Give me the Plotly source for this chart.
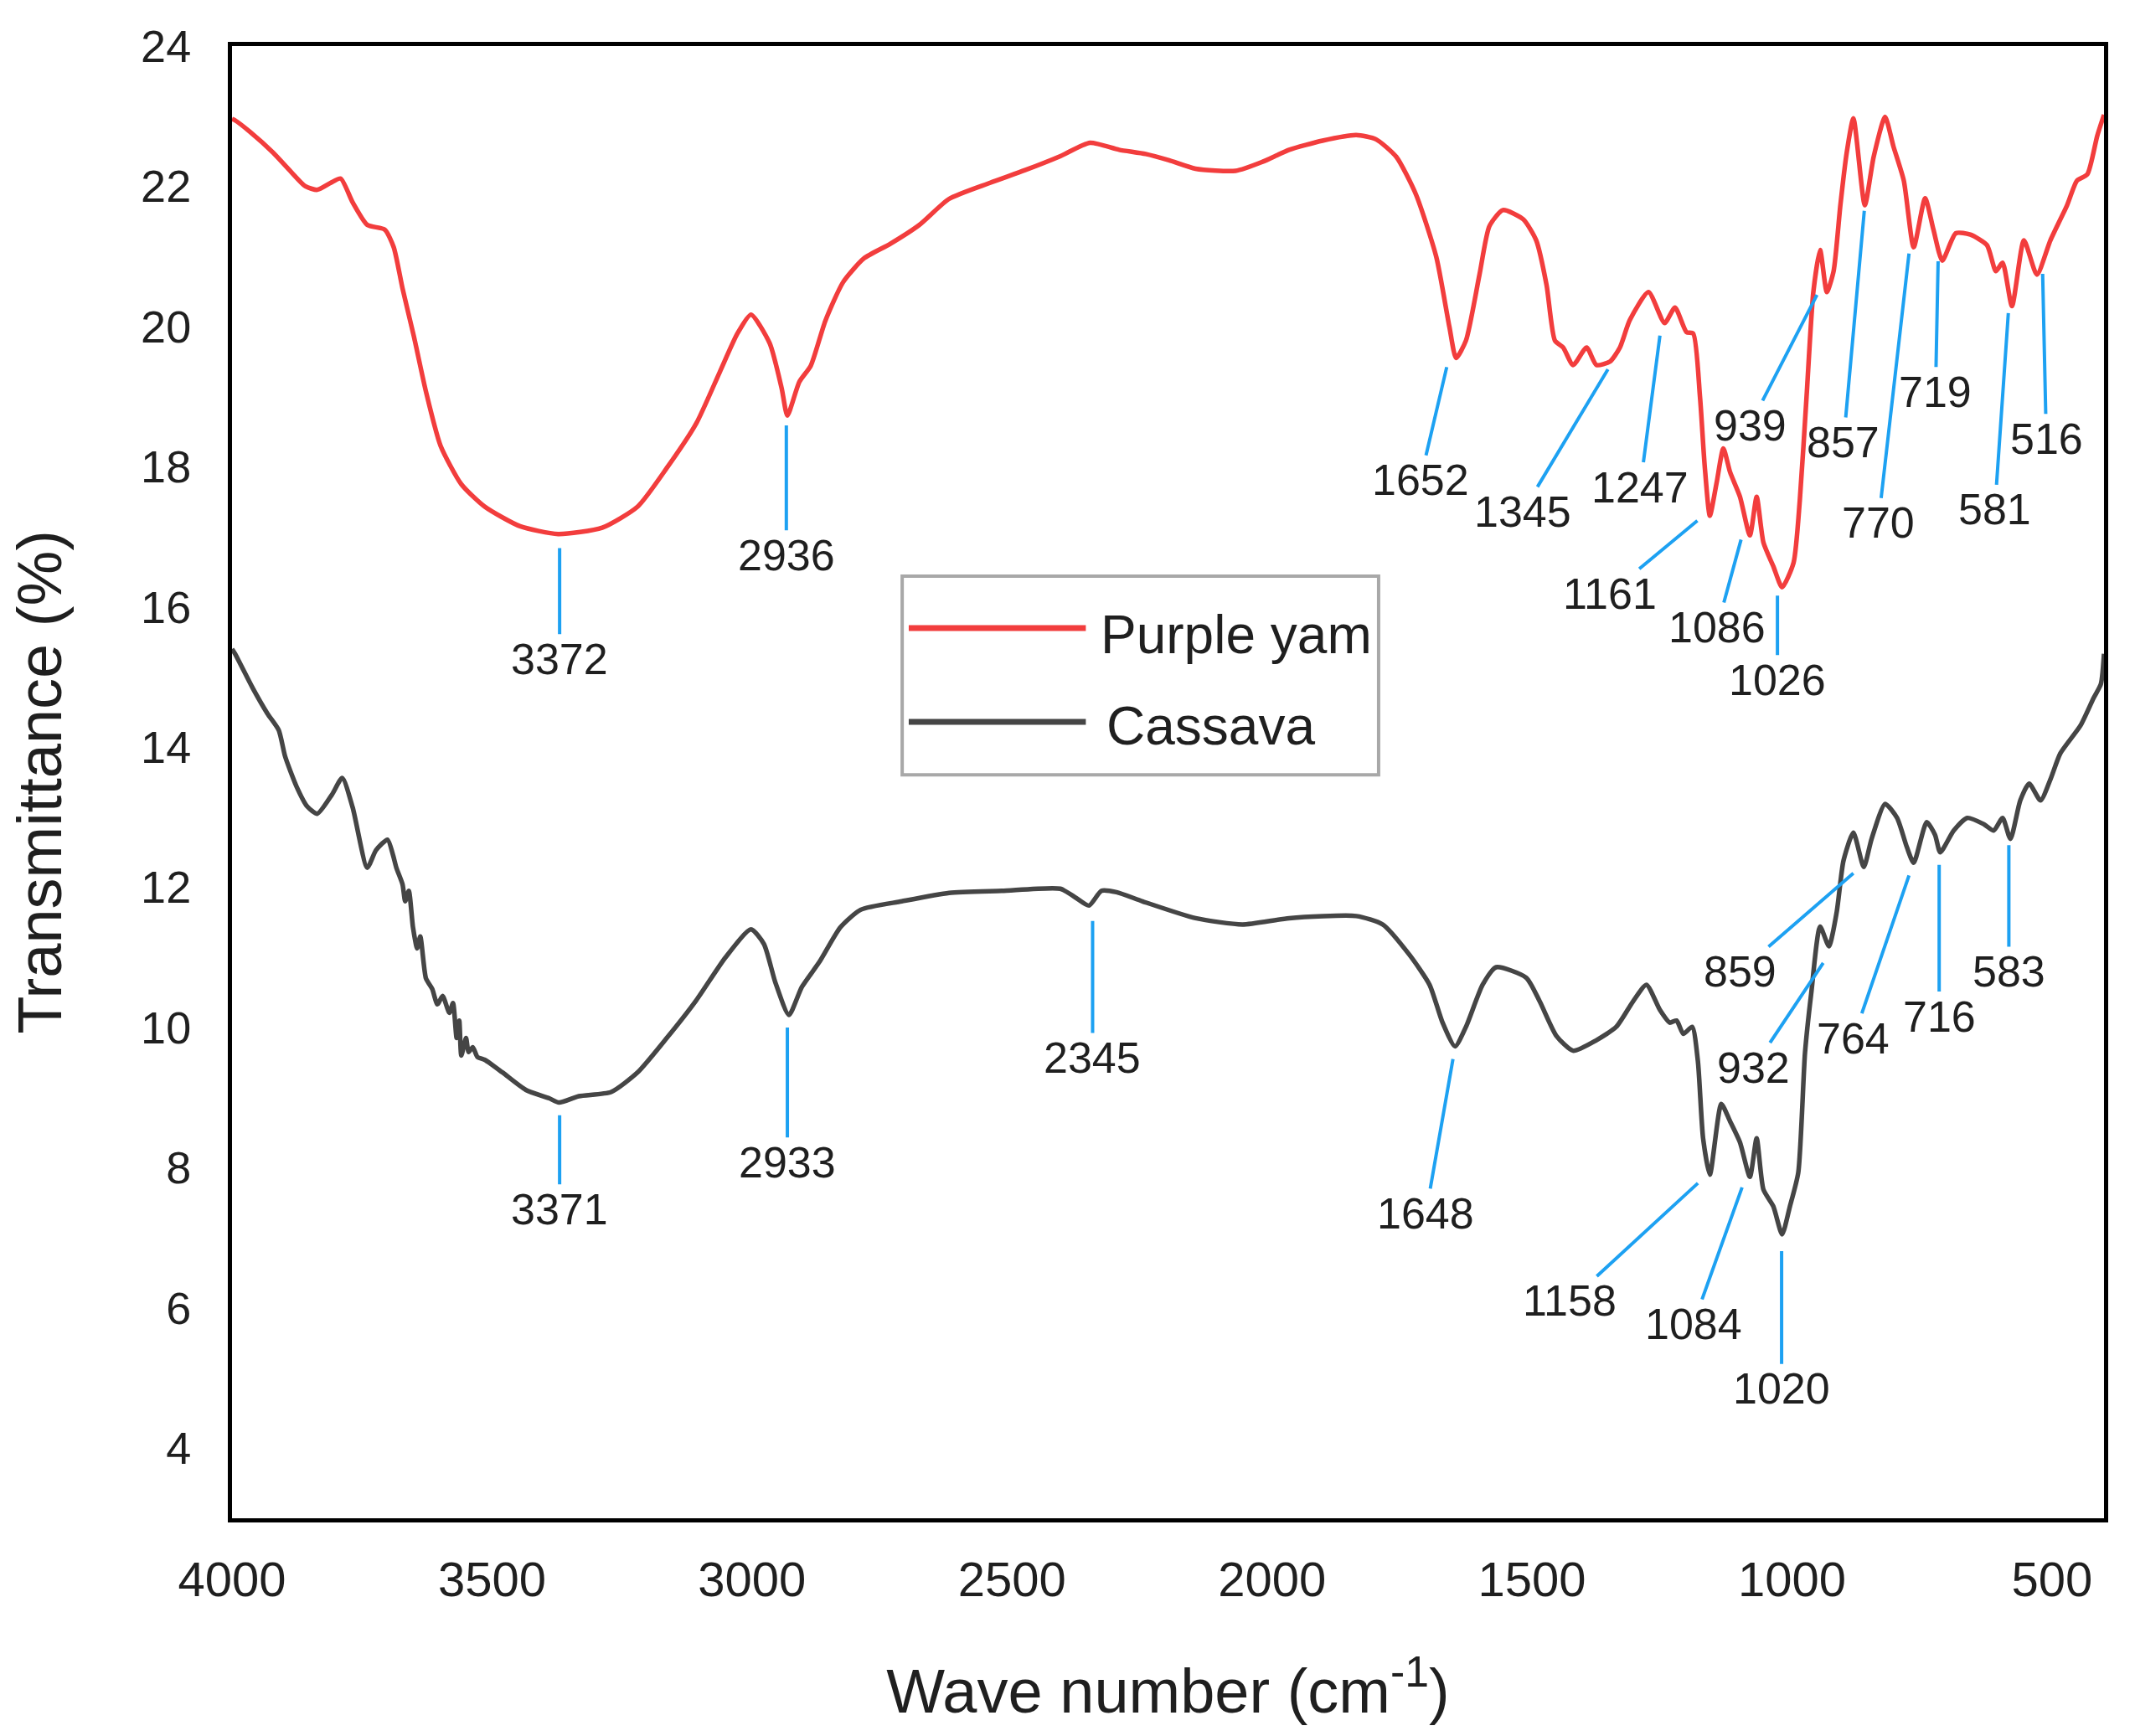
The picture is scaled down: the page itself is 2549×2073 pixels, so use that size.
import plotly.graph_objects as go

# ---------------- data ----------------
purple_yam = [
    (4000, 22.96), (3994, 22.94), (3966, 22.78), (3921, 22.48), (3887, 22.21), (3859, 22.00),
    (3836, 21.95), (3810, 22.05), (3791, 22.11), (3768, 21.77), (3740, 21.45), (3706, 21.38),
    (3689, 21.13), (3672, 20.54), (3650, 19.85), (3627, 19.07), (3599, 18.30), (3559, 17.75),
    (3514, 17.43), (3446, 17.15), (3373, 17.04), (3288, 17.13), (3220, 17.43), (3164, 17.98),
    (3107, 18.62), (3062, 19.35), (3028, 19.90), (3002, 20.17), (2966, 19.76), (2943, 19.12),
    (2932, 18.73), (2909, 19.21), (2887, 19.44), (2859, 20.08), (2825, 20.63), (2785, 20.97),
    (2734, 21.18), (2678, 21.45), (2621, 21.82), (2542, 22.05), (2475, 22.23), (2407, 22.43),
    (2350, 22.62), (2294, 22.52), (2243, 22.46), (2198, 22.37), (2147, 22.25), (2070, 22.22),
    (2018, 22.35), (1967, 22.52), (1903, 22.65), (1838, 22.73), (1800, 22.67), (1761, 22.42),
    (1723, 21.88), (1684, 20.99), (1659, 20.00), (1646, 19.55), (1627, 19.80), (1601, 20.74),
    (1582, 21.43), (1556, 21.66), (1517, 21.53), (1492, 21.23), (1472, 20.59), (1456, 19.80),
    (1440, 19.70), (1421, 19.45), (1395, 19.70), (1376, 19.45), (1350, 19.50), (1331, 19.70),
    (1312, 20.09), (1276, 20.49), (1245, 20.05), (1225, 20.27), (1203, 19.92), (1190, 19.90),
    (1177, 19.00), (1168, 18.02), (1158, 17.30), (1145, 17.77), (1132, 18.26), (1119, 17.92),
    (1100, 17.57), (1081, 17.02), (1068, 17.57), (1055, 16.92), (1036, 16.58), (1019, 16.28),
    (997, 16.63), (985, 17.52), (972, 19.00), (959, 20.49), (946, 21.09), (933, 20.49),
    (920, 20.79), (907, 21.73), (895, 22.47), (882, 22.97), (860, 21.73), (843, 22.42),
    (821, 22.99), (805, 22.57), (785, 22.08), (766, 21.13), (744, 21.83), (728, 21.38),
    (711, 20.94), (685, 21.33), (657, 21.31), (625, 21.16), (608, 20.79), (595, 20.91),
    (577, 20.29), (554, 21.23), (529, 20.74), (503, 21.23), (471, 21.73), (452, 22.08),
    (432, 22.17), (413, 22.72), (400, 23.02),
]

cassava = [
    (4000, 15.40), (3994, 15.33), (3960, 14.84), (3932, 14.48), (3910, 14.24), (3898, 13.87),
    (3876, 13.44), (3855, 13.15), (3836, 13.05), (3808, 13.32), (3788, 13.56), (3768, 13.14),
    (3740, 12.28), (3723, 12.53), (3701, 12.68), (3690, 12.45), (3684, 12.28), (3672, 12.04),
    (3667, 11.80), (3660, 11.95), (3652, 11.43), (3644, 11.13), (3638, 11.30), (3627, 10.70),
    (3615, 10.55), (3605, 10.33), (3595, 10.45), (3582, 10.21), (3575, 10.35), (3568, 9.85),
    (3563, 10.10), (3559, 9.60), (3550, 9.85), (3545, 9.65), (3537, 9.72), (3528, 9.58),
    (3514, 9.54), (3480, 9.36), (3435, 9.11), (3390, 8.99), (3371, 8.93), (3333, 9.02),
    (3271, 9.08), (3220, 9.36), (3164, 9.85), (3107, 10.39), (3051, 11.00), (3002, 11.40),
    (2977, 11.19), (2955, 10.64), (2929, 10.18), (2904, 10.58), (2870, 10.94), (2830, 11.43),
    (2791, 11.68), (2712, 11.80), (2621, 11.92), (2520, 11.95), (2407, 11.98), (2379, 11.86),
    (2352, 11.74), (2328, 11.95), (2299, 11.93), (2249, 11.80), (2147, 11.56), (2057, 11.47),
    (1967, 11.56), (1838, 11.59), (1787, 11.47), (1736, 11.04), (1697, 10.61), (1672, 10.07),
    (1648, 9.73), (1627, 10.01), (1595, 10.61), (1569, 10.86), (1511, 10.71), (1485, 10.37),
    (1453, 9.88), (1421, 9.67), (1376, 9.82), (1338, 10.01), (1306, 10.37), (1280, 10.61),
    (1254, 10.25), (1235, 10.07), (1222, 10.10), (1209, 9.91), (1192, 10.01), (1181, 9.52),
    (1171, 8.42), (1158, 7.90), (1136, 8.91), (1119, 8.66), (1100, 8.36), (1081, 7.87),
    (1068, 8.42), (1055, 7.69), (1036, 7.45), (1019, 7.05), (1004, 7.45), (988, 7.93),
    (975, 9.64), (963, 10.49), (946, 11.44), (929, 11.16), (914, 11.65), (901, 12.38),
    (882, 12.78), (862, 12.29), (847, 12.69), (821, 13.19), (798, 12.99), (779, 12.57),
    (766, 12.35), (741, 12.93), (725, 12.75), (715, 12.50), (689, 12.81), (663, 12.99),
    (631, 12.90), (612, 12.81), (595, 12.99), (580, 12.69), (561, 13.24), (544, 13.48),
    (522, 13.24), (503, 13.54), (484, 13.91), (445, 14.31), (420, 14.70), (406, 14.90),
    (400, 15.33),
]

# peak labels: (text, tip wavenumber, tip T%, label wavenumber, label T%)
purple_yam_peaks = [
    ("3372", 3370, 16.84, 3370, 15.26),
    ("2936", 2934, 18.59, 2934, 16.74),
    ("1652", 1664, 19.42, 1715, 17.81),
    ("1345", 1354, 19.39, 1518, 17.36),
    ("1247", 1254, 19.87, 1292, 17.71),
    ("1161", 1182, 17.23, 1351, 16.19),
    ("1086", 1098, 16.96, 1144, 15.71),
    ("1026", 1028, 16.16, 1028, 14.96),
    ("939", 952, 20.45, 1081, 18.59),
    ("857", 861, 21.65, 901, 18.35),
    ("770", 775, 21.04, 834, 17.20),
    ("719", 719, 20.93, 724, 19.07),
    ("581", 584, 20.19, 610, 17.39),
    ("516", 518, 20.75, 511, 18.40),
]
cassava_peaks = [
    ("3371", 3370, 8.75, 3370, 7.41),
    ("2933", 2932, 10.00, 2932, 8.08),
    ("2345", 2345, 11.52, 2345, 9.57),
    ("1648", 1652, 9.55, 1704, 7.35),
    ("1158", 1181, 7.78, 1427, 6.10),
    ("1084", 1096, 7.72, 1190, 5.77),
    ("1020", 1020, 6.81, 1020, 4.85),
    ("932", 940, 10.92, 1074, 9.43),
    ("859", 882, 12.20, 1100, 10.80),
    ("764", 775, 12.17, 882, 9.85),
    ("716", 717, 12.32, 717, 10.16),
    ("583", 583, 12.60, 583, 10.80),
]

x_tick_vals = [4000, 3500, 3000, 2500, 2000, 1500, 1000, 500]
y_tick_vals = [4, 6, 8, 10, 12, 14, 16, 18, 20, 22, 24]
series_names = ["Purple yam", "Cassava"]

# ---------------- styling ----------------
RED = "#F23D3D"
DARK = "#454545"
BLUE = "#1DA1F2"
FONT = "Liberation Sans, Arial, Helvetica, sans-serif"
TXT = "#1f1f1f"

fig = go.Figure()
for name, pts, col in [(series_names[0], purple_yam, RED), (series_names[1], cassava, DARK)]:
    fig.add_trace(go.Scatter(
        x=[p[0] for p in pts], y=[p[1] for p in pts], mode="lines", name=name,
        line=dict(color=col, width=5.5, shape="spline", smoothing=0.6),
        showlegend=False, hoverinfo="skip"))

annotations = []
for peaks in (purple_yam_peaks, cassava_peaks):
    for txt, tx, ty, lx, ly in peaks:
        annotations.append(dict(
            x=tx, y=ty, xref="x", yref="y", ax=lx, ay=ly, axref="x", ayref="y",
            text=txt, showarrow=True, arrowhead=0, arrowwidth=4, arrowcolor=BLUE,
            standoff=0, startstandoff=0, borderpad=0,
            font=dict(family=FONT, size=52, color=TXT)))

# manual legend (paper coordinates)
shapes = [
    dict(type="rect", xref="paper", yref="paper", x0=0.358, x1=0.6125, y0=0.505, y1=0.640,
         line=dict(color="#A8A8A8", width=4), fillcolor="white", layer="above"),
    dict(type="line", xref="paper", yref="paper", x0=0.3615, x1=0.4561, y0=0.6047, y1=0.6047,
         line=dict(color=RED, width=7), layer="above"),
    dict(type="line", xref="paper", yref="paper", x0=0.3615, x1=0.4561, y0=0.541, y1=0.541,
         line=dict(color=DARK, width=7), layer="above"),
]
annotations.append(dict(x=0.463, y=0.600, xref="paper", yref="paper", text=series_names[0],
                        showarrow=False, xanchor="left", yanchor="middle",
                        font=dict(family=FONT, size=64, color=TXT)))
annotations.append(dict(x=0.466, y=0.538, xref="paper", yref="paper", text=series_names[1],
                        showarrow=False, xanchor="left", yanchor="middle",
                        font=dict(family=FONT, size=64, color=TXT)))

fig.update_layout(
    width=2549, height=2073,
    margin=dict(l=277, r=37, t=55, b=260, pad=0),
    paper_bgcolor="white", plot_bgcolor="white",
    font=dict(family=FONT, color=TXT),
    annotations=annotations, shapes=shapes,
    xaxis=dict(range=[4000, 400], tickvals=x_tick_vals, ticks="outside", ticklen=18,
               tickcolor="rgba(0,0,0,0)", showgrid=False, zeroline=False,
               showline=True, linecolor="black", linewidth=5, mirror=True,
               tickfont=dict(family=FONT, size=58, color=TXT),
               title=dict(text="Wave number (cm<sup>-1</sup>)", standoff=78,
                          font=dict(family=FONT, size=74, color=TXT))),
    yaxis=dict(range=[3, 24], tickvals=y_tick_vals, ticks="outside", ticklen=33,
               tickcolor="rgba(0,0,0,0)", showgrid=False, zeroline=False,
               showline=True, linecolor="black", linewidth=5, mirror=True,
               tickfont=dict(family=FONT, size=54, color=TXT),
               title=dict(text="Transmittance (%)", standoff=72,
                          font=dict(family=FONT, size=74, color=TXT))),
)

fig.write_html("out.html", config={"displayModeBar": False},
               post_script="document.body.style.margin='0';")
